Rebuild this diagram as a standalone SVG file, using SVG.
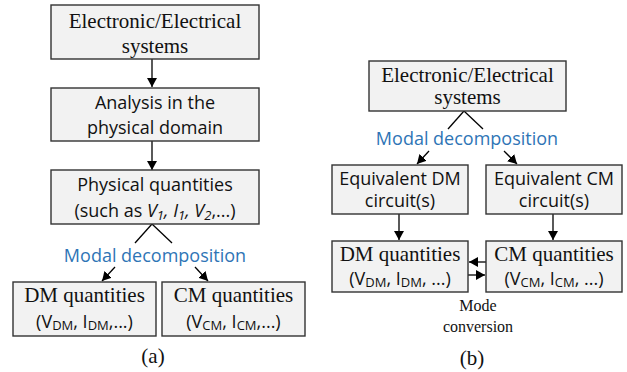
<svg xmlns="http://www.w3.org/2000/svg" width="627" height="372" viewBox="0 0 627 372">
<defs>
<marker id="ah" markerUnits="userSpaceOnUse" markerWidth="9" markerHeight="10" refX="9" refY="5" orient="auto">
<path d="M0,0 L9,5 L0,10 Z" fill="#000"/>
</marker>
<style>
.box{fill:#f2f2f2;stroke:#333;stroke-width:1.4}
.serif{font-family:"Liberation Serif","Times New Roman",serif;font-size:21px;fill:#111;text-anchor:middle}
.sans{font-family:"Open Sans","Liberation Sans",sans-serif;font-size:18px;fill:#111;text-anchor:middle}
.blue{font-family:"Open Sans","Liberation Sans",sans-serif;font-size:18px;fill:#2e75b6;text-anchor:middle}
.small{font-family:"Liberation Serif","Times New Roman",serif;font-size:16px;fill:#111;text-anchor:middle}
.sub{font-size:13px}
.conn{stroke:#000;stroke-width:1.3;fill:none}
.arr{stroke:#000;stroke-width:1.3;fill:none;marker-end:url(#ah)}
</style>
</defs>
<rect width="627" height="372" fill="#fff"/>

<g id="connectors">
<line class="arr" x1="152" y1="59" x2="152" y2="87"/>
<line class="arr" x1="152" y1="141" x2="152" y2="170"/>
<line class="conn" x1="152" y1="224" x2="135" y2="243"/>
<line class="conn" x1="152" y1="224" x2="172" y2="243"/>
<line class="arr" x1="115" y1="267" x2="102" y2="281"/>
<line class="arr" x1="195" y1="267" x2="208" y2="281"/>

<line class="conn" x1="464" y1="111" x2="448" y2="129"/>
<line class="conn" x1="464" y1="111" x2="483" y2="129"/>
<line class="arr" x1="429" y1="151" x2="417" y2="164"/>
<line class="arr" x1="504" y1="151" x2="517" y2="164"/>
<line class="arr" x1="399" y1="214" x2="399" y2="240"/>
<line class="arr" x1="553" y1="214" x2="553" y2="240"/>
<line class="arr" x1="486" y1="262" x2="469" y2="262"/>
<line class="arr" x1="468" y1="275" x2="485" y2="275"/>
</g>

<g id="a-systems">
<rect class="box" x="51" y="5" width="208" height="54"/>
<text class="serif" x="155" y="28">Electronic/Electrical</text>
<text class="serif" x="155" y="53">systems</text>
</g>
<g id="a-analysis">
<rect class="box" x="51" y="88" width="208" height="53"/>
<text class="sans" x="155" y="109">Analysis in the</text>
<text class="sans" x="155" y="134">physical domain</text>
</g>
<g id="a-physical">
<rect class="box" x="51" y="170" width="208" height="54"/>
<text class="sans" x="155" y="191">Physical quantities</text>
<text class="sans" x="155" y="217">(such as <tspan font-style="italic">V<tspan class="sub" dy="3">1</tspan><tspan dy="-3">, I</tspan><tspan class="sub" dy="3">1</tspan><tspan dy="-3">, V</tspan><tspan class="sub" dy="3">2</tspan></tspan><tspan dy="-3">,...)</tspan></text>
</g>
<text class="blue" x="155" y="262">Modal decomposition</text>
<g id="a-dm">
<rect class="box" x="13" y="282" width="143" height="54"/>
<text class="serif" x="84.5" y="302">DM quantities</text>
<text class="sans" x="84.5" y="328">(V<tspan class="sub" dy="2">DM</tspan><tspan dy="-2">, I</tspan><tspan class="sub" dy="2">DM</tspan><tspan dy="-2">,...)</tspan></text>
</g>
<g id="a-cm">
<rect class="box" x="162" y="282" width="143" height="54"/>
<text class="serif" x="233.5" y="302">CM quantities</text>
<text class="sans" x="233.5" y="328">(V<tspan class="sub" dy="2">CM</tspan><tspan dy="-2">, I</tspan><tspan class="sub" dy="2">CM</tspan><tspan dy="-2">,...)</tspan></text>
</g>
<text class="serif" x="153" y="363">(a)</text>

<g id="b-systems">
<rect class="box" x="369" y="61" width="197" height="50"/>
<text class="serif" x="467.5" y="82">Electronic/Electrical</text>
<text class="serif" x="467.5" y="104">systems</text>
</g>
<text class="blue" x="467" y="145">Modal decomposition</text>
<g id="b-eqdm">
<rect class="box" x="332" y="165" width="136" height="49"/>
<text class="sans" x="400" y="185">Equivalent DM</text>
<text class="sans" x="400" y="207">circuit(s)</text>
</g>
<g id="b-eqcm">
<rect class="box" x="486" y="165" width="136" height="49"/>
<text class="sans" x="554" y="185">Equivalent CM</text>
<text class="sans" x="554" y="207">circuit(s)</text>
</g>
<g id="b-dm">
<rect class="box" x="332" y="241" width="136" height="51"/>
<text class="serif" x="400" y="261">DM quantities</text>
<text class="sans" x="400" y="285">(V<tspan class="sub" dy="2">DM</tspan><tspan dy="-2">, I</tspan><tspan class="sub" dy="2">DM</tspan><tspan dy="-2">, ...)</tspan></text>
</g>
<g id="b-cm">
<rect class="box" x="486" y="241" width="136" height="51"/>
<text class="serif" x="554" y="261">CM quantities</text>
<text class="sans" x="554" y="285">(V<tspan class="sub" dy="2">CM</tspan><tspan dy="-2">, I</tspan><tspan class="sub" dy="2">CM</tspan><tspan dy="-2">, ...)</tspan></text>
</g>
<text class="small" x="478" y="311">Mode</text>
<text class="small" x="478" y="332">conversion</text>
<text class="serif" x="472" y="365">(b)</text>
</svg>
